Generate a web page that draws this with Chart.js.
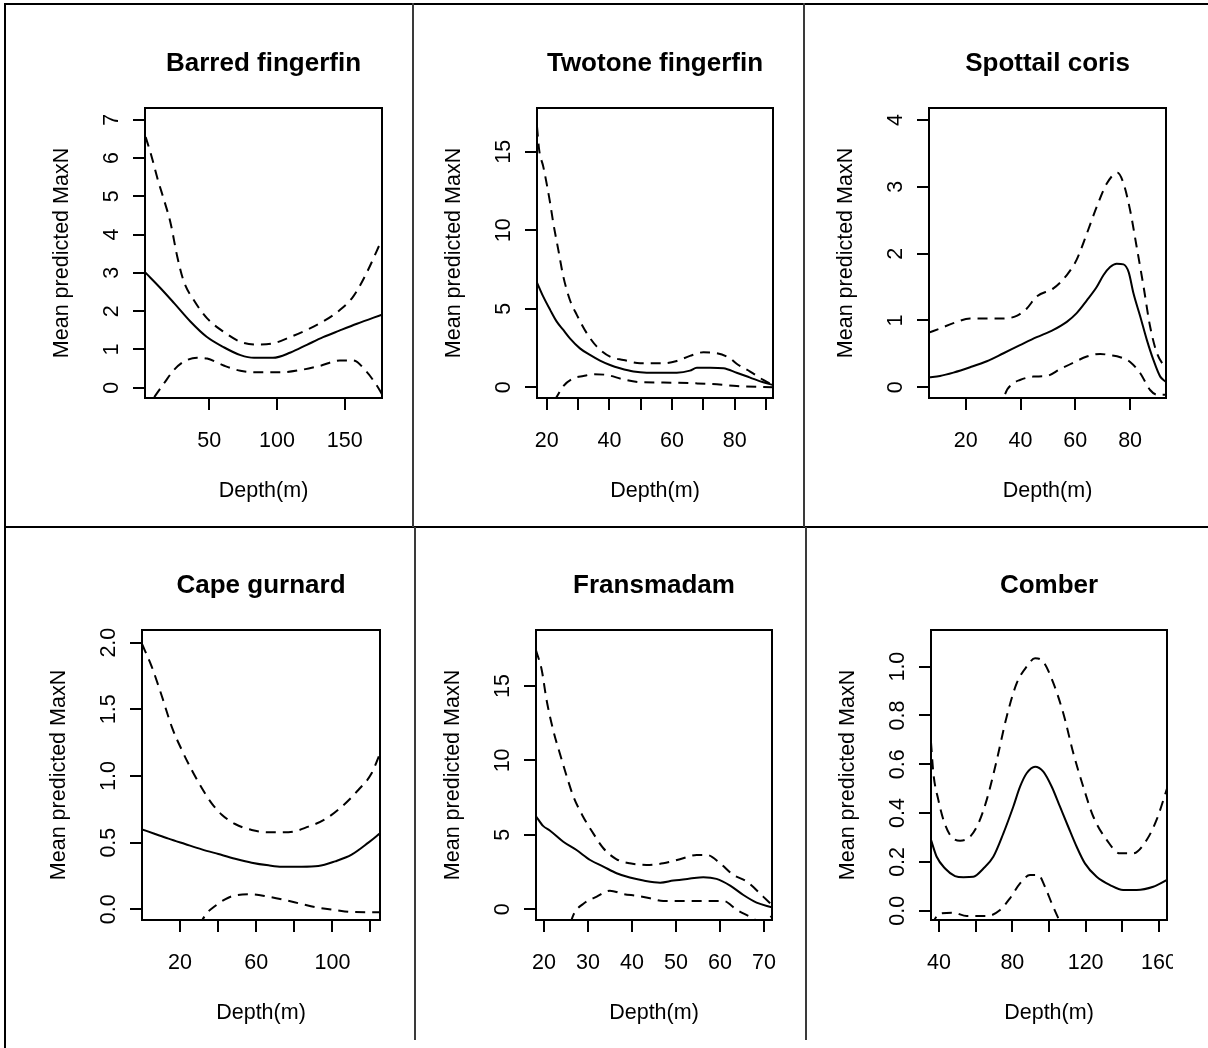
<!DOCTYPE html>
<html>
<head>
<meta charset="utf-8">
<script src="https://cdn.jsdelivr.net/npm/chart.js@4.4.1/dist/chart.umd.min.js"></script>
<style>
  html, body { margin: 0; padding: 0; background: #fff; }
  body { width: 1208px; height: 1048px; position: relative; overflow: hidden; }
  canvas { position: absolute; }
  .rule { position: absolute; background: #000; }
  .rule.soft { background: #3a3a3a; }
</style>
</head>
<body>
<!-- panel frame rules -->
<div class="rule" style="left:4px;top:3px;width:1204px;height:2px"></div>
<div class="rule" style="left:4px;top:3px;width:2px;height:1045px"></div>
<div class="rule" style="left:4px;top:526px;width:1204px;height:2px"></div>
<div class="rule soft" style="left:412px;top:3px;width:2px;height:524px"></div>
<div class="rule soft" style="left:803px;top:3px;width:2px;height:524px"></div>
<div class="rule soft" style="left:414px;top:527px;width:2px;height:513px"></div>
<div class="rule soft" style="left:805px;top:527px;width:2px;height:513px"></div>

<script>
// ---- Barred fingerfin: [depth, MaxN] ----
const barredMean  = [[2.5,3.02],[14,2.6],[24,2.21],[36,1.73],[48,1.33],[61,1.05],[73,0.85],[83,0.78],[97,0.78],[110,0.92],[122,1.12],[134,1.32],[146,1.49],[159,1.67],[177.5,1.91]];
const barredUpper = [[3,6.55],[7,6.09],[12,5.43],[16.5,4.91],[21.4,4.3],[26.3,3.43],[31.2,2.77],[38.5,2.29],[48.4,1.81],[60.6,1.46],[72.9,1.2],[85.1,1.13],[97.4,1.16],[109.6,1.32],[121.9,1.51],[134.1,1.73],[146.4,2.03],[156.2,2.38],[166,2.99],[177.5,3.88]];
const barredLower = [[2.5,-0.62],[9.1,-0.26],[16.5,0.11],[23.8,0.46],[31.2,0.68],[41,0.78],[48.4,0.76],[60.6,0.58],[72.9,0.44],[85.1,0.4],[102.3,0.4],[117,0.46],[131.7,0.57],[146.4,0.71],[156.2,0.71],[166,0.42],[173.4,0.07],[177.5,-0.17]];
const barredXTicks = [50, 100, 150];
const barredYTicks = [0, 1, 2, 3, 4, 5, 6, 7];

// ---- Twotone fingerfin ----
const twotoneMean  = [[16.9,6.67],[18.9,5.77],[21.1,4.93],[23.2,4.18],[25.3,3.65],[27.4,3.12],[30.6,2.48],[33.8,2.06],[37,1.7],[40.2,1.42],[43.4,1.21],[47.7,1.0],[51.9,0.93],[61.5,0.93],[65.7,1.06],[67.9,1.25],[72.1,1.25],[76.4,1.21],[80.6,0.93],[84.9,0.62],[89.1,0.32],[92.2,0.15]];
const twotoneUpper = [[16.9,16.6],[17.6,15.1],[18.9,14.05],[21.1,11.72],[22.1,10.45],[23.7,8.75],[25.3,7.05],[27.4,5.56],[29.6,4.61],[32.8,3.44],[36,2.59],[40.2,1.95],[44.5,1.74],[49.8,1.53],[57.2,1.53],[61.5,1.68],[65.7,2.0],[70,2.23],[74.3,2.17],[78.5,1.85],[80.6,1.5],[84.9,1.0],[89.1,0.47],[92.2,0.15]];
const twotoneLower = [[16.9,-2.7],[23.2,-0.6],[25.3,0.08],[28.5,0.57],[31.7,0.72],[34.9,0.83],[39.1,0.79],[44.5,0.5],[49.8,0.33],[57.2,0.3],[67.9,0.25],[74.3,0.19],[80.6,0.08],[92.2,0.0]];
const twotoneXTicks  = [20, 30, 40, 50, 60, 70, 80, 90];
const twotoneXLabels = [20, 40, 60, 80];
const twotoneYTicks  = [0, 5, 10, 15];

// ---- Spottail coris ----
const spottailMean  = [[6.6,0.15],[10.6,0.17],[15.5,0.22],[21.6,0.3],[27.7,0.39],[33.8,0.51],[39.8,0.63],[45.9,0.75],[52,0.86],[56.9,0.98],[60.5,1.11],[64.2,1.3],[67.8,1.5],[70.3,1.68],[72.7,1.8],[75.1,1.85],[77.6,1.84],[79.5,1.72],[81.2,1.41],[83.7,1.06],[86.1,0.71],[88.5,0.41],[91,0.16],[93.1,0.08]];
const spottailUpper = [[6.6,0.82],[10.6,0.88],[15.5,0.96],[21.6,1.03],[27.7,1.03],[33.8,1.03],[38.6,1.07],[42.3,1.18],[45.9,1.36],[52,1.48],[56.9,1.68],[60.5,1.91],[64.2,2.3],[67.8,2.7],[71.5,3.05],[75.4,3.21],[77.6,3.05],[80,2.65],[82.4,2.1],[84.9,1.51],[87.3,0.91],[89.8,0.51],[93.1,0.28]];
const spottailLower = [[33,-0.35],[34.4,-0.1],[37.4,0.06],[39.8,0.11],[44.7,0.16],[49.6,0.17],[54.4,0.27],[59.3,0.37],[64.2,0.46],[69.1,0.5],[72.7,0.48],[76.4,0.45],[80,0.38],[83.7,0.21],[87.3,-0.04],[89.8,-0.11],[93.1,-0.11]];
const spottailXTicks = [20, 40, 60, 80];
const spottailYTicks = [0, 1, 2, 3, 4];

// ---- Cape gurnard ----
const gurnardMean  = [[0,0.6],[6.9,0.565],[13.9,0.53],[22.6,0.49],[31.4,0.45],[40.1,0.415],[48.9,0.38],[57.6,0.35],[66.4,0.33],[73.4,0.32],[83.9,0.32],[92.6,0.325],[101.4,0.36],[110.1,0.41],[118.9,0.5],[125,0.57]];
const gurnardUpper = [[0,1.99],[5.1,1.82],[10.4,1.6],[15.6,1.37],[20.9,1.195],[26.1,1.045],[31.4,0.91],[36.6,0.795],[41.9,0.71],[48.9,0.64],[57.6,0.595],[66.4,0.578],[76.9,0.578],[87.4,0.62],[96.1,0.675],[104.9,0.77],[113.6,0.895],[120.6,1.02],[125,1.17]];
const gurnardLower = [[30,-0.12],[34,-0.03],[38.4,0.025],[43.6,0.075],[48.9,0.105],[57.6,0.1125],[66.4,0.095],[75.1,0.07],[83.9,0.04],[92.6,0.0125],[101.4,-0.005],[110.1,-0.02],[125,-0.022]];
const gurnardXTicks  = [20, 40, 60, 80, 100, 120];
const gurnardXLabels = [20, 60, 100];
const gurnardYTicks  = [0, 0.5, 1.0, 1.5, 2.0];

// ---- Fransmadam ----
const fransMean  = [[18.2,6.25],[19.8,5.6],[21.4,5.28],[24.4,4.54],[27.4,3.98],[30.5,3.31],[33.5,2.87],[36.5,2.42],[39.5,2.13],[42.6,1.93],[46.4,1.79],[49.4,1.93],[53.2,2.06],[56.2,2.15],[59.2,2.04],[62.3,1.59],[65.3,0.96],[68.3,0.45],[71.8,0.13]];
const fransUpper = [[18.2,17.4],[19.5,16.07],[20.6,14.06],[22.1,12.04],[23.6,10.48],[25.2,8.91],[26.7,7.57],[28.9,6.22],[31.2,5.1],[33.5,4.1],[36.5,3.36],[39.5,3.09],[43.3,2.98],[47.1,3.09],[50.9,3.36],[54.7,3.65],[57,3.65],[60,3.09],[63,2.31],[66.1,1.86],[69.8,0.85],[71.8,0.29]];
const fransLower = [[25,-2.0],[26.7,-0.38],[28.9,0.36],[32,0.85],[35,1.25],[38,1.03],[41.1,0.9],[44.1,0.74],[47.1,0.56],[53.2,0.56],[60.8,0.56],[63.8,-0.04],[66.5,-0.45],[68.5,-0.75],[70.5,-0.72],[71.8,-0.45]];
const fransXTicks = [20, 30, 40, 50, 60, 70];
const fransYTicks = [0, 5, 10, 15];

// ---- Comber ----
const comberMean  = [[35.6,0.29],[38.7,0.221],[43.3,0.173],[48.7,0.142],[53.3,0.137],[58.7,0.139],[64.2,0.173],[69.6,0.221],[75.1,0.317],[80.5,0.426],[84.2,0.508],[87.8,0.563],[92.4,0.59],[96.9,0.57],[101.5,0.508],[106,0.426],[110.5,0.344],[115.1,0.262],[119.6,0.194],[126,0.139],[133.3,0.105],[140.5,0.085],[147.8,0.085],[156.9,0.098],[164.4,0.126]];
const comberUpper = [[35.6,0.69],[36.9,0.563],[39.6,0.454],[42.4,0.372],[46,0.31],[51.5,0.287],[56.9,0.303],[61.5,0.358],[66,0.454],[71.5,0.617],[76.9,0.795],[82.4,0.932],[87.8,1.0],[92.4,1.034],[96.9,1.02],[102.4,0.932],[107.8,0.809],[113.3,0.645],[118.7,0.508],[124.2,0.385],[131.5,0.29],[138.7,0.235],[146,0.235],[153.3,0.29],[158.7,0.372],[164.4,0.5]];
const comberLower = [[35.6,-0.06],[40.5,-0.011],[47.8,-0.008],[55.1,-0.022],[66,-0.022],[73.3,0.003],[78.7,0.051],[84.2,0.112],[89.6,0.146],[94.2,0.146],[97.8,0.098],[101.5,0.03],[105.1,-0.031],[108,-0.08]];
const comberXTicks  = [40, 60, 80, 100, 120, 140, 160];
const comberXLabels = [40, 80, 120, 160];
const comberYTicks  = [0, 0.2, 0.4, 0.6, 0.8, 1.0];

// ---- shared text ----
const xAxisTitle = 'Depth(m)';
const yAxisTitle = 'Mean predicted MaxN';

const FONT = '"Liberation Sans", Arial, Helvetica, sans-serif';
const AXIS_PX = 21.5;
const TITLE_PX = 26;
const DASH = [10, 7];

const plain = v => String(v);
const oneDecimal = v => v.toFixed(1);

// panel layout: plot box [left, top, right, bottom] in page pixels
const panels = [
  { title: 'Barred fingerfin', box: [145,108,382,398], padR: 20, x: [2.5,177.5], y: [-0.27,7.31],
    mean: barredMean, upper: barredUpper, lower: barredLower, xTicks: barredXTicks, xLabels: barredXTicks, yTicks: barredYTicks, yFmt: plain },
  { title: 'Twotone fingerfin', box: [537,108,773,398], padR: 20, x: [16.9,92.2], y: [-0.68,17.78],
    mean: twotoneMean, upper: twotoneUpper, lower: twotoneLower, xTicks: twotoneXTicks, xLabels: twotoneXLabels, yTicks: twotoneYTicks, yFmt: plain },
  { title: 'Spottail coris', box: [929,108,1166,398], padR: 20, x: [6.6,93.1], y: [-0.16,4.18],
    mean: spottailMean, upper: spottailUpper, lower: spottailLower, xTicks: spottailXTicks, xLabels: spottailXTicks, yTicks: spottailYTicks, yFmt: plain },
  { title: 'Cape gurnard', box: [142,630,380,920], padR: 20, x: [0,125], y: [-0.08,2.095],
    mean: gurnardMean, upper: gurnardUpper, lower: gurnardLower, xTicks: gurnardXTicks, xLabels: gurnardXLabels, yTicks: gurnardYTicks, yFmt: oneDecimal },
  { title: 'Fransmadam', box: [536,630,772,920], padR: 20, x: [18.2,71.8], y: [-0.72,18.76],
    mean: fransMean, upper: fransUpper, lower: fransLower, xTicks: fransXTicks, xLabels: fransXTicks, yTicks: fransYTicks, yFmt: plain },
  { title: 'Comber', box: [931,630,1167,920], padR: 6, x: [35.6,164.4], y: [-0.038,1.15],
    mean: comberMean, upper: comberUpper, lower: comberLower, xTicks: comberXTicks, xLabels: comberXLabels, yTicks: comberYTicks, yFmt: oneDecimal }
];

const Y_AXIS_W = 140;   // space left of the plot box
const X_AXIS_H = 125;   // space below the plot box
const HEAD_H = 100;     // space above the plot box (title)

const meter = document.createElement('canvas').getContext('2d');
function widestLabel(labels) {
  meter.font = AXIS_PX + 'px ' + FONT;
  return Math.max(...labels.map(s => meter.measureText(s).width));
}

// closed box around the plotting region
const frameBox = {
  id: 'frameBox',
  afterDatasetsDraw(chart) {
    const { ctx, chartArea: a } = chart;
    ctx.save();
    ctx.strokeStyle = '#000';
    ctx.lineWidth = 2;
    ctx.strokeRect(a.left, a.top, a.right - a.left, a.bottom - a.top);
    ctx.restore();
  }
};

function curve(points, dash) {
  return {
    data: points.map(([x, y]) => ({ x, y })),
    borderColor: '#000',
    borderWidth: 2,
    borderDash: dash,
    pointRadius: 0,
    fill: false,
    cubicInterpolationMode: 'monotone',
    clip: 0
  };
}

function zeroPad(s) { s.paddingLeft = s.paddingRight = s.paddingTop = s.paddingBottom = 0; }

function drawPanel(p) {
  const [L, T, R, B] = p.box;
  const left = L - Y_AXIS_W, top = T - HEAD_H;
  const cv = document.createElement('canvas');
  cv.width = R + p.padR - left;
  cv.height = B + X_AXIS_H - top;
  cv.style.left = left + 'px';
  cv.style.top = top + 'px';
  document.body.appendChild(cv);

  const yLabels = p.yTicks.map(p.yFmt);
  const yPad = 21 - widestLabel(yLabels) / 2;
  const tickGrid = { display: true, drawOnChartArea: false, drawTicks: true, tickLength: 12, lineWidth: 2, color: '#000' };

  new Chart(cv, {
    type: 'line',
    data: { datasets: [curve(p.mean, []), curve(p.upper, DASH), curve(p.lower, DASH)] },
    options: {
      responsive: false,
      animation: false,
      devicePixelRatio: 1,
      events: [],
      layout: { padding: { left: 0, top: 0, right: p.padR, bottom: 0 }, autoPadding: false },
      plugins: {
        legend: { display: false },
        tooltip: { enabled: false },
        title: {
          display: true, text: p.title, fullSize: false, color: '#000',
          font: { family: FONT, size: TITLE_PX, weight: 'bold', lineHeight: 1.2 },
          padding: { top: 40.4, bottom: 28.4 }
        }
      },
      scales: {
        x: {
          type: 'linear', bounds: 'data', min: p.x[0], max: p.x[1],
          afterBuildTicks: s => { s.ticks = p.xTicks.map(v => ({ value: v })); },
          afterFit: s => { s.height = X_AXIS_H; zeroPad(s); },
          ticks: {
            autoSkip: false, minRotation: 0, maxRotation: 0, padding: 18, color: '#000',
            font: { family: FONT, size: AXIS_PX },
            callback: v => p.xLabels.includes(v) ? String(v) : ''
          },
          grid: tickGrid,
          border: { display: false },
          title: { display: true, text: xAxisTitle, color: '#000', font: { family: FONT, size: AXIS_PX, lineHeight: 1.2 }, padding: { top: 0, bottom: 19.1 } }
        },
        y: {
          type: 'linear', bounds: 'data', min: p.y[0], max: p.y[1],
          afterBuildTicks: s => { s.ticks = p.yTicks.map(v => ({ value: v })); },
          afterFit: s => { s.width = Y_AXIS_W; zeroPad(s); },
          ticks: {
            autoSkip: false, minRotation: 90, maxRotation: 90, crossAlign: 'center', padding: yPad, color: '#000',
            font: { family: FONT, size: AXIS_PX },
            callback: v => p.yFmt(v)
          },
          grid: tickGrid,
          border: { display: false },
          title: { display: true, text: yAxisTitle, color: '#000', font: { family: FONT, size: AXIS_PX, lineHeight: 1.2 }, padding: { top: 44, bottom: 0 } }
        }
      }
    },
    plugins: [frameBox]
  });
}

panels.forEach(drawPanel);
</script>
</body>
</html>
